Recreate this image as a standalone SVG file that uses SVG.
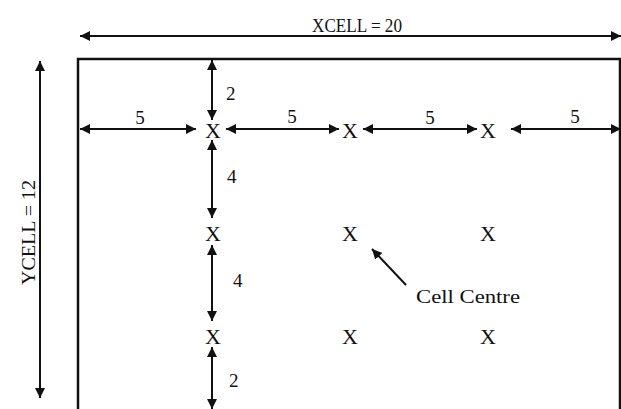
<svg xmlns="http://www.w3.org/2000/svg" width="621" height="409" viewBox="0 0 621 409">
<defs>
<marker id="ah" viewBox="0 0 10 10" refX="10" refY="5" markerWidth="10" markerHeight="10" markerUnits="userSpaceOnUse" orient="auto-start-reverse">
<path d="M0,0 L10,5 L0,10 z" fill="#111"/>
</marker>
<style>
text{font-family:"Liberation Serif","Times New Roman",serif;fill:#111}
.x{font-size:22px;text-anchor:middle}
.lb{font-size:19px}
.c{stroke:#111;stroke-width:2;fill:none}
.d{stroke:#111;stroke-width:2;fill:none;marker-start:url(#ah);marker-end:url(#ah)}
</style>
</defs>
<rect width="621" height="409" fill="#fff"/>
<g id="cell">
<rect x="78" y="59" width="542" height="352" fill="none" stroke="#111" stroke-width="2.5"/>
</g>
<g id="centres">
<text class="x" x="213" y="138">X</text>
<text class="x" x="350" y="138">X</text>
<text class="x" x="488" y="138">X</text>
<text class="x" x="213" y="241">X</text>
<text class="x" x="350" y="241">X</text>
<text class="x" x="488" y="241">X</text>
<text class="x" x="213" y="344">X</text>
<text class="x" x="350" y="344">X</text>
<text class="x" x="488" y="344">X</text>
</g>
<g id="connectors">
<line class="d" x1="80" y1="36" x2="621" y2="36"/>
<line class="d" x1="40" y1="61" x2="40" y2="398"/>
<line class="d" x1="212" y1="60" x2="212" y2="120"/>
<line class="d" x1="212" y1="140" x2="212" y2="218"/>
<line class="d" x1="212" y1="245" x2="212" y2="321"/>
<line class="d" x1="212" y1="347" x2="212" y2="409"/>
<line class="d" x1="80" y1="129" x2="196" y2="129"/>
<line class="d" x1="226" y1="129" x2="339" y2="129"/>
<line class="d" x1="363" y1="129" x2="477" y2="129"/>
<line class="d" x1="511" y1="129" x2="621" y2="129"/>
<line class="c" x1="406" y1="285" x2="372" y2="249" style="marker-end:url(#ah)"/>
</g>
<g id="labels">
<text class="lb" x="312" y="32" textLength="90" lengthAdjust="spacingAndGlyphs">XCELL = 20</text>
<text class="lb" transform="translate(35,285) rotate(-90)" textLength="105" lengthAdjust="spacingAndGlyphs">YCELL = 12</text>
<text class="lb" x="226" y="100">2</text>
<text class="lb" x="227" y="183">4</text>
<text class="lb" x="233" y="287">4</text>
<text class="lb" x="229" y="387">2</text>
<text class="lb" x="140" y="124" text-anchor="middle">5</text>
<text class="lb" x="292" y="123" text-anchor="middle">5</text>
<text class="lb" x="430" y="124" text-anchor="middle">5</text>
<text class="lb" x="575" y="123" text-anchor="middle">5</text>
<text class="lb" x="416" y="303" textLength="104" lengthAdjust="spacingAndGlyphs">Cell Centre</text>
</g>
</svg>
